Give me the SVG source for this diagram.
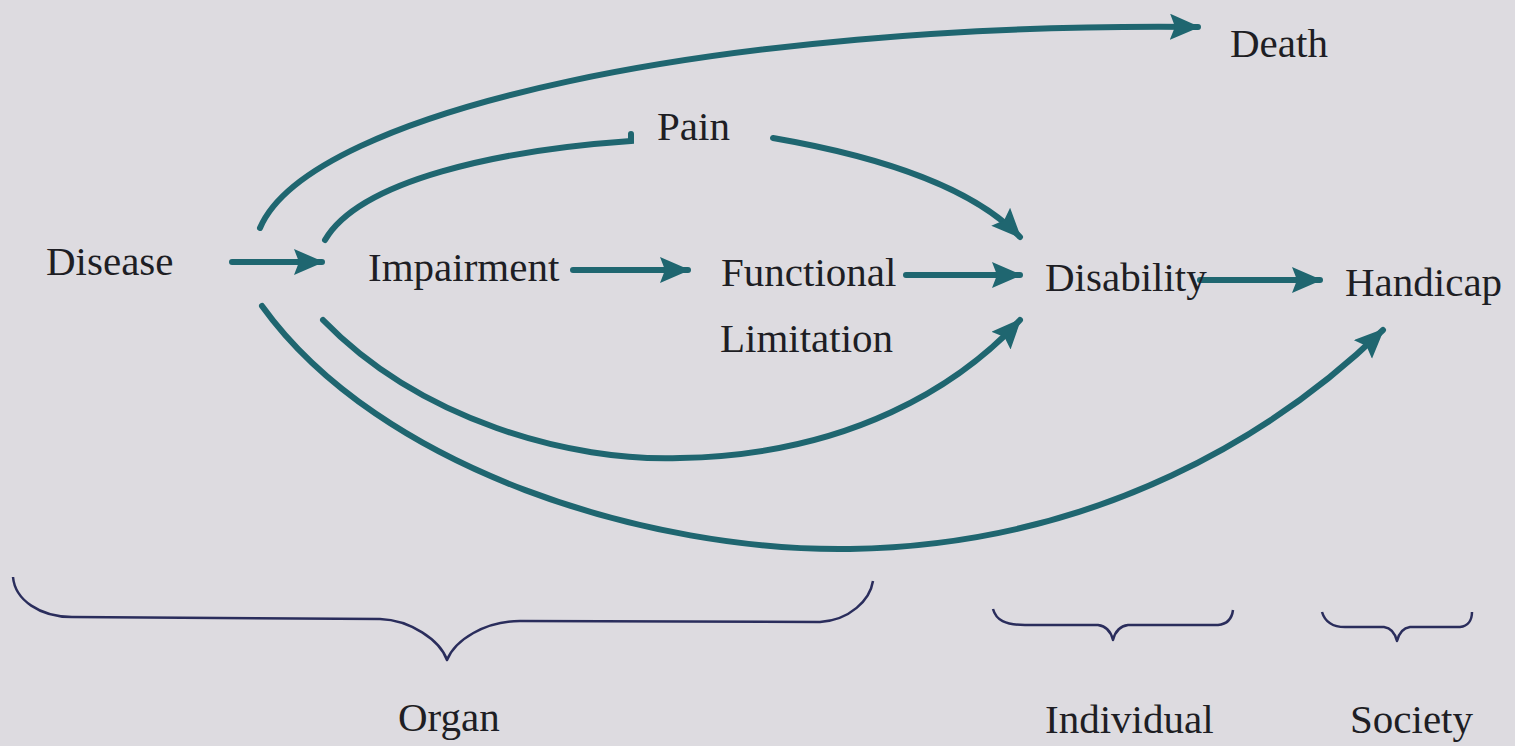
<svg xmlns="http://www.w3.org/2000/svg" width="1515" height="746" viewBox="0 0 1515 746">
<defs>
<marker id="ah" markerUnits="userSpaceOnUse" markerWidth="32" markerHeight="28" refX="28" refY="13" orient="auto">
<path d="M0,0 L30,13 L0,26 L5,13 z" fill="#1f6670"/>
</marker>
</defs>
<rect width="1515" height="746" fill="#dddbe0"/>
<g id="connectors" fill="none" stroke="#1f6670" stroke-width="6" stroke-linecap="round">
<path marker-end="url(#ah)" d="M232,262 L322,262"/>
<path marker-end="url(#ah)" d="M573,270 L688,270"/>
<path marker-end="url(#ah)" d="M906,275 L1020,275"/>
<path marker-end="url(#ah)" d="M1200,280 L1320,280"/>
<path marker-end="url(#ah)" d="M260,228 C310,110 720,22 1198,27"/>
<path d="M325,240 C360,180 500,150 631,141 L631,134"/>
<path marker-end="url(#ah)" d="M773,138 C900,160 980,195 1020,237"/>
<path marker-end="url(#ah)" d="M323,320 C420,420 570,462 680,458 C850,455 960,385 1020,320"/>
<path marker-end="url(#ah)" d="M262,306 C380,470 650,552 850,549 C1100,545 1280,430 1383,330"/>
</g>
<g id="braces" fill="none" stroke="#2a2d5c" stroke-width="2.5" stroke-linejoin="round">
<path d="M13,577 C15,600 40,617 72,617 L380,619 C410,620 440,640 447,660 C455,640 485,621 520,621 L820,622 C850,620 870,600 873,581"/>
<path d="M993,609 C996,620 1005,625 1025,625 L1098,625 C1106,626 1111,632 1113,640 C1115,632 1120,626 1128,625 L1218,625 C1228,624 1232,618 1233,610"/>
<path d="M1322,612 C1325,622 1332,627 1345,627 L1384,627 C1391,628 1395,633 1397,641 C1399,633 1403,628 1410,627 L1460,627 C1468,626 1472,620 1472,612"/>
</g>
<g id="death"><text x="1230" y="57" font-family="Liberation Serif" font-size="41" fill="#1e1e24">Death</text></g>
<g id="pain"><text x="657" y="140" font-family="Liberation Serif" font-size="41" fill="#1e1e24">Pain</text></g>
<g id="disease"><text x="46" y="275" font-family="Liberation Serif" font-size="41" fill="#1e1e24">Disease</text></g>
<g id="impairment"><text x="368" y="281" font-family="Liberation Serif" font-size="41" fill="#1e1e24">Impairment</text></g>
<g id="functional"><text x="721" y="286" font-family="Liberation Serif" font-size="41" fill="#1e1e24">Functional</text><text x="720" y="352" font-family="Liberation Serif" font-size="41" fill="#1e1e24">Limitation</text></g>
<g id="disability"><text x="1045" y="291" font-family="Liberation Serif" font-size="41" fill="#1e1e24">Disability</text></g>
<g id="handicap"><text x="1345" y="296" font-family="Liberation Serif" font-size="41" fill="#1e1e24">Handicap</text></g>
<g id="organ"><text x="398" y="731" font-family="Liberation Serif" font-size="41" fill="#1e1e24">Organ</text></g>
<g id="individual"><text x="1045" y="733" font-family="Liberation Serif" font-size="41" fill="#1e1e24">Individual</text></g>
<g id="society"><text x="1350" y="733" font-family="Liberation Serif" font-size="41" fill="#1e1e24">Society</text></g>
</svg>
